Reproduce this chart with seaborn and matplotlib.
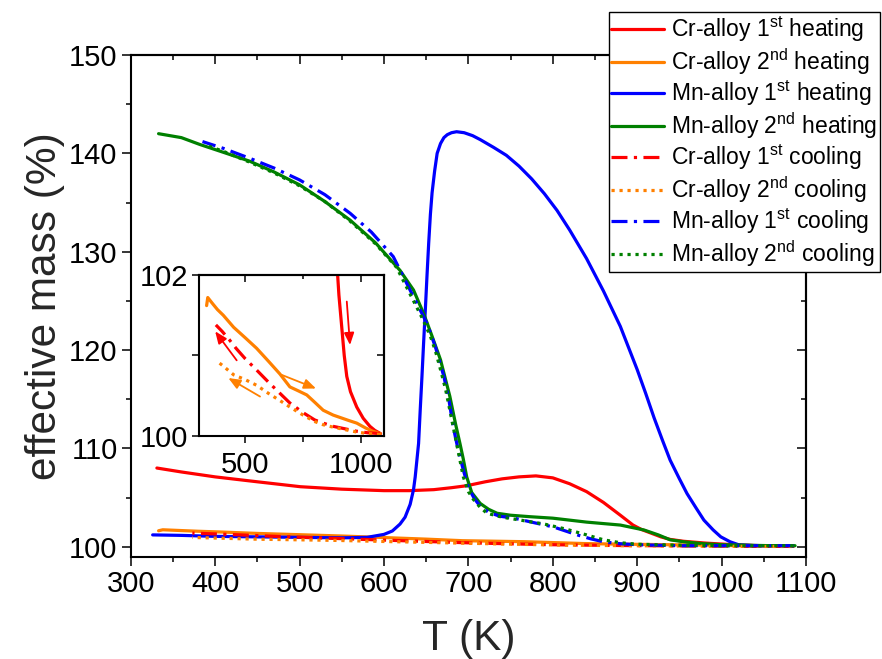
import matplotlib
matplotlib.use("Agg")
import matplotlib.pyplot as plt
from matplotlib.ticker import MultipleLocator, FixedLocator, NullFormatter
import seaborn as sns

# ---- measured curves: temperature (K) and effective mass (%) ----
cr1_heat_T = [331, 360, 400, 450, 501, 550, 600, 630, 659, 680, 698, 720, 740, 760, 780,
              800, 820, 840, 860, 880, 895, 905, 917, 928, 939, 955, 982, 1010, 1039, 1060, 1085]
cr1_heat_m = [108.0, 107.6, 107.1, 106.6, 106.1, 105.85, 105.7, 105.7, 105.8, 106.0, 106.2,
              106.6, 106.9, 107.1, 107.2, 107.0, 106.4, 105.6, 104.5, 103.2, 102.2, 101.75,
              101.36, 101.0, 100.74, 100.55, 100.36, 100.22, 100.12, 100.07, 100.03]

cr2_heat_T = [333, 338, 360, 380, 405, 450, 500, 549, 600, 650, 693, 730, 766, 800, 837,
              880, 920, 950, 982, 1020, 1050, 1083]
cr2_heat_m = [101.62, 101.72, 101.64, 101.57, 101.50, 101.35, 101.22, 101.09, 100.93, 100.77,
              100.61, 100.56, 100.51, 100.42, 100.32, 100.26, 100.22, 100.19, 100.16, 100.10,
              100.06, 100.03]

mn1_heat_T = [326, 360, 400, 450, 500, 550, 580, 600, 610, 619, 625, 631, 635, 637, 639, 641,
              643, 645, 647, 649, 651, 653, 655, 657, 660, 663, 667, 671, 675, 680, 686, 695,
              705, 714, 730, 745, 760, 775, 790, 805, 820, 840, 860, 880, 900, 910, 920, 930,
              939, 950, 959, 970, 979, 990, 999, 1010, 1020, 1040, 1060, 1085]
mn1_heat_m = [101.2, 101.15, 101.05, 101.0, 100.95, 100.9, 100.95, 101.25, 101.6, 102.3, 103.0,
              104.3, 105.8, 107.1, 108.8, 110.5, 114.0, 117.3, 120.8, 124.1, 127.6, 130.9,
              133.8, 136.0, 138.2, 140.0, 141.0, 141.6, 141.9, 142.1, 142.2, 142.1, 141.8,
              141.4, 140.6, 139.8, 138.7, 137.4, 135.9, 134.2, 132.2, 129.3, 126.0, 122.4,
              118.0, 115.6, 113.1, 110.8, 108.8, 106.9, 105.4, 103.9, 102.7, 101.7, 101.0,
              100.5, 100.2, 100.1, 100.1, 100.1]

mn2_heat_T = [333, 360, 382, 410, 441, 470, 500, 530, 560, 590, 619, 635, 647, 657, 667, 678,
              685, 690, 694, 698, 704, 714, 724, 734, 750, 773, 800, 840, 880, 908, 925, 939,
              955, 979, 1000, 1030, 1060, 1087]
mn2_heat_m = [142.0, 141.6, 140.9, 140.1, 139.2, 138.1, 136.8, 135.1, 133.2, 130.9, 128.1,
              126.1, 123.7, 121.4, 119.0, 115.3, 112.4, 110.5, 108.9, 107.1, 105.5, 104.4,
              103.8, 103.4, 103.2, 103.05, 102.9, 102.5, 102.2, 101.7, 101.2, 100.7, 100.5,
              100.3, 100.2, 100.15, 100.1, 100.1]

cr1_cool_T = [1083, 1030, 980, 930, 880, 837, 800, 750, 693, 650, 600, 549, 500, 460, 430,
              400, 373]
cr1_cool_m = [100.03, 100.04, 100.06, 100.09, 100.12, 100.16, 100.20, 100.29, 100.41, 100.53,
              100.67, 100.82, 100.96, 101.09, 101.20, 101.30, 101.38]

cr2_cool_T = [1083, 1030, 980, 930, 880, 837, 800, 750, 693, 650, 600, 549, 500, 450, 400, 373]
cr2_cool_m = [100.02, 100.03, 100.05, 100.08, 100.11, 100.14, 100.18, 100.26, 100.36, 100.44,
              100.53, 100.63, 100.70, 100.76, 100.88, 100.94]

mn1_cool_T = [1085, 1050, 1000, 950, 900, 880, 860, 845, 829, 815, 801, 780, 754, 737, 724,
              714, 707, 700, 694, 688, 682, 677, 671, 661, 651, 635, 611, 585, 560, 530, 500,
              470, 441, 410, 385]
mn1_cool_m = [100.1, 100.1, 100.1, 100.1, 100.2, 100.3, 100.5, 100.8, 101.2, 101.6, 102.0,
              102.4, 102.9, 103.1, 103.5, 104.1, 104.9, 106.0, 107.8, 109.8, 112.2, 114.9,
              117.3, 120.3, 122.7, 125.4, 129.5, 132.0, 133.9, 135.8, 137.3, 138.5, 139.5,
              140.5, 141.2]

mn2_cool_T = [1085, 1050, 1000, 950, 900, 880, 860, 840, 815, 790, 762, 740, 722, 714, 706,
              700, 694, 690, 686, 682, 678, 673, 667, 661, 655, 645, 635, 615, 590, 560, 530,
              500, 470, 441, 410, 390]
mn2_cool_m = [100.1, 100.1, 100.1, 100.15, 100.25, 100.4, 100.7, 101.2, 101.8, 102.3, 102.7,
              103.0, 103.4, 104.0, 104.8, 105.6, 107.1, 108.8, 110.5, 112.2, 113.9, 116.0,
              118.0, 119.9, 121.4, 123.3, 125.0, 128.4, 130.8, 133.1, 135.1, 136.7, 138.0,
              139.1, 140.2, 140.8]

labels = [r"Cr-alloy 1$^{\mathrm{st}}$ heating", r"Cr-alloy 2$^{\mathrm{nd}}$ heating",
          r"Mn-alloy 1$^{\mathrm{st}}$ heating", r"Mn-alloy 2$^{\mathrm{nd}}$ heating",
          r"Cr-alloy 1$^{\mathrm{st}}$ cooling", r"Cr-alloy 2$^{\mathrm{nd}}$ cooling",
          r"Mn-alloy 1$^{\mathrm{st}}$ cooling", r"Mn-alloy 2$^{\mathrm{nd}}$ cooling"]
temps = [cr1_heat_T, cr2_heat_T, mn1_heat_T, mn2_heat_T,
         cr1_cool_T, cr2_cool_T, mn1_cool_T, mn2_cool_T]
masses = [cr1_heat_m, cr2_heat_m, mn1_heat_m, mn2_heat_m,
          cr1_cool_m, cr2_cool_m, mn1_cool_m, mn2_cool_m]

RED, ORANGE, BLUE, GREEN = "#FF0000", "#FF8000", "#0000FF", "#008000"
DASHDOT = (0, (5, 2, 1, 2))
DOTTED = (0, (1, 1.5))
colors = [RED, ORANGE, BLUE, GREEN, RED, ORANGE, BLUE, GREEN]
styles = ["-", "-", "-", "-", DASHDOT, DOTTED, DASHDOT, DOTTED]
in_inset = [True, True, False, False, True, True, False, False]

sns.set_theme(style="ticks")
plt.rcParams.update({
    "font.family": ["Liberation Sans", "DejaVu Sans"],
    "mathtext.fontset": "custom",
    "mathtext.rm": "Liberation Sans",
    "mathtext.it": "Liberation Sans:italic",
    "mathtext.bf": "Liberation Sans:bold",
    "axes.edgecolor": "black",
    "axes.linewidth": 1.5,
    "xtick.color": "black",
    "ytick.color": "black",
    "text.color": "black",
})


def mirror_ticks(axis_obj, which_side, major, minor, length, minor_length):
    """Unlabelled inward ticks on the opposite spine."""
    if which_side == "top":
        sec = axis_obj.secondary_xaxis("top")
        target = sec.xaxis
    else:
        sec = axis_obj.secondary_yaxis("right")
        target = sec.yaxis
    target.set_major_locator(major)
    if minor is not None:
        target.set_minor_locator(minor)
    target.set_major_formatter(NullFormatter())
    target.set_minor_formatter(NullFormatter())
    sec.tick_params(which="major", direction="in", length=length, width=1.1)
    sec.tick_params(which="minor", direction="in", length=minor_length, width=1.1)
    return sec


LW = 2.3
TICK_FS = 21
fig = plt.figure(figsize=(8.82, 6.59), dpi=100)
ax = fig.add_axes([0.1482, 0.1552, 0.7657, 0.7613])

for T, m, c, ls, lab in zip(temps, masses, colors, styles, labels):
    sns.lineplot(x=T, y=m, ax=ax, color=c, linestyle=ls, lw=LW, sort=False,
                 estimator=None, label=lab, legend=False)

ax.set_xlim(300, 1100)
ax.set_ylim(98.98, 150)
ax.xaxis.set_major_locator(MultipleLocator(100))
ax.xaxis.set_minor_locator(MultipleLocator(50))
ax.yaxis.set_major_locator(MultipleLocator(10))
ax.yaxis.set_minor_locator(MultipleLocator(5))
ax.tick_params(which="major", direction="out", length=6.5, width=1.1, labelsize=TICK_FS, pad=3)
ax.tick_params(which="minor", direction="out", length=3.5, width=1.1)
ax.set_xlabel("T (K)", fontsize=30.5)
ax.set_ylabel("effective mass (%)", fontsize=30.5)
ax.xaxis.set_label_coords(0.5, -0.124)
ax.yaxis.set_label_coords(-0.097, 0.5)
mirror_ticks(ax, "top", MultipleLocator(100), MultipleLocator(50), 6.5, 3.5)
mirror_ticks(ax, "right", MultipleLocator(10), MultipleLocator(5), 6.5, 3.5)

# inset: close-up of the Cr-alloy curves near 100 %
axi = fig.add_axes([0.2256, 0.3384, 0.2098, 0.2443])
for T, m, c, ls, show in zip(temps, masses, colors, styles, in_inset):
    if show:
        sns.lineplot(x=T, y=m, ax=axi, color=c, linestyle=ls, lw=LW, sort=False,
                     estimator=None, legend=False)
axi.set_xlim(300, 1100)
axi.set_ylim(100, 102)
axi.xaxis.set_major_locator(FixedLocator([500, 1000]))
axi.xaxis.set_minor_locator(FixedLocator([750]))
axi.yaxis.set_major_locator(FixedLocator([100, 101, 102]))
axi.set_yticklabels(["100", "", "102"])
axi.tick_params(which="major", direction="out", length=5, width=1.1, labelsize=TICK_FS, pad=2.5)
axi.tick_params(axis="x", which="major", pad=6)
axi.tick_params(which="minor", direction="out", length=4, width=1.1)
axi.set_xlabel("")
axi.set_ylabel("")
mirror_ticks(axi, "top", FixedLocator([500, 1000]), FixedLocator([750]), 5, 3)
mirror_ticks(axi, "right", FixedLocator([100, 101, 102]), None, 5, 3)

# direction arrows along the inset curves: (tail, head, colour)
arrows = [((939, 101.67), (953, 101.13), RED),
          ((463, 100.94), (370, 101.30), RED),
          ((657, 100.76), (806, 100.59), ORANGE),
          ((564, 100.49), (427, 100.72), ORANGE)]
for tail, head, c in arrows:
    axi.annotate("", xy=head, xytext=tail,
                 arrowprops=dict(arrowstyle="-|>,head_length=0.6,head_width=0.25",
                                 color=c, lw=1.3, shrinkA=0, shrinkB=0))

handles, labs = ax.get_legend_handles_labels()
leg = fig.legend(handles, labs, loc="upper right", bbox_to_anchor=(880 / 882, 1 - 12 / 659),
                 bbox_transform=fig.transFigure, fontsize=16.5, frameon=True, fancybox=False,
                 edgecolor="black", framealpha=1, handlelength=2.3, handletextpad=0.3,
                 labelspacing=0.09, borderpad=0.12, borderaxespad=0)
leg.get_frame().set_linewidth(1.0)

fig.savefig("out.png", dpi=100)
